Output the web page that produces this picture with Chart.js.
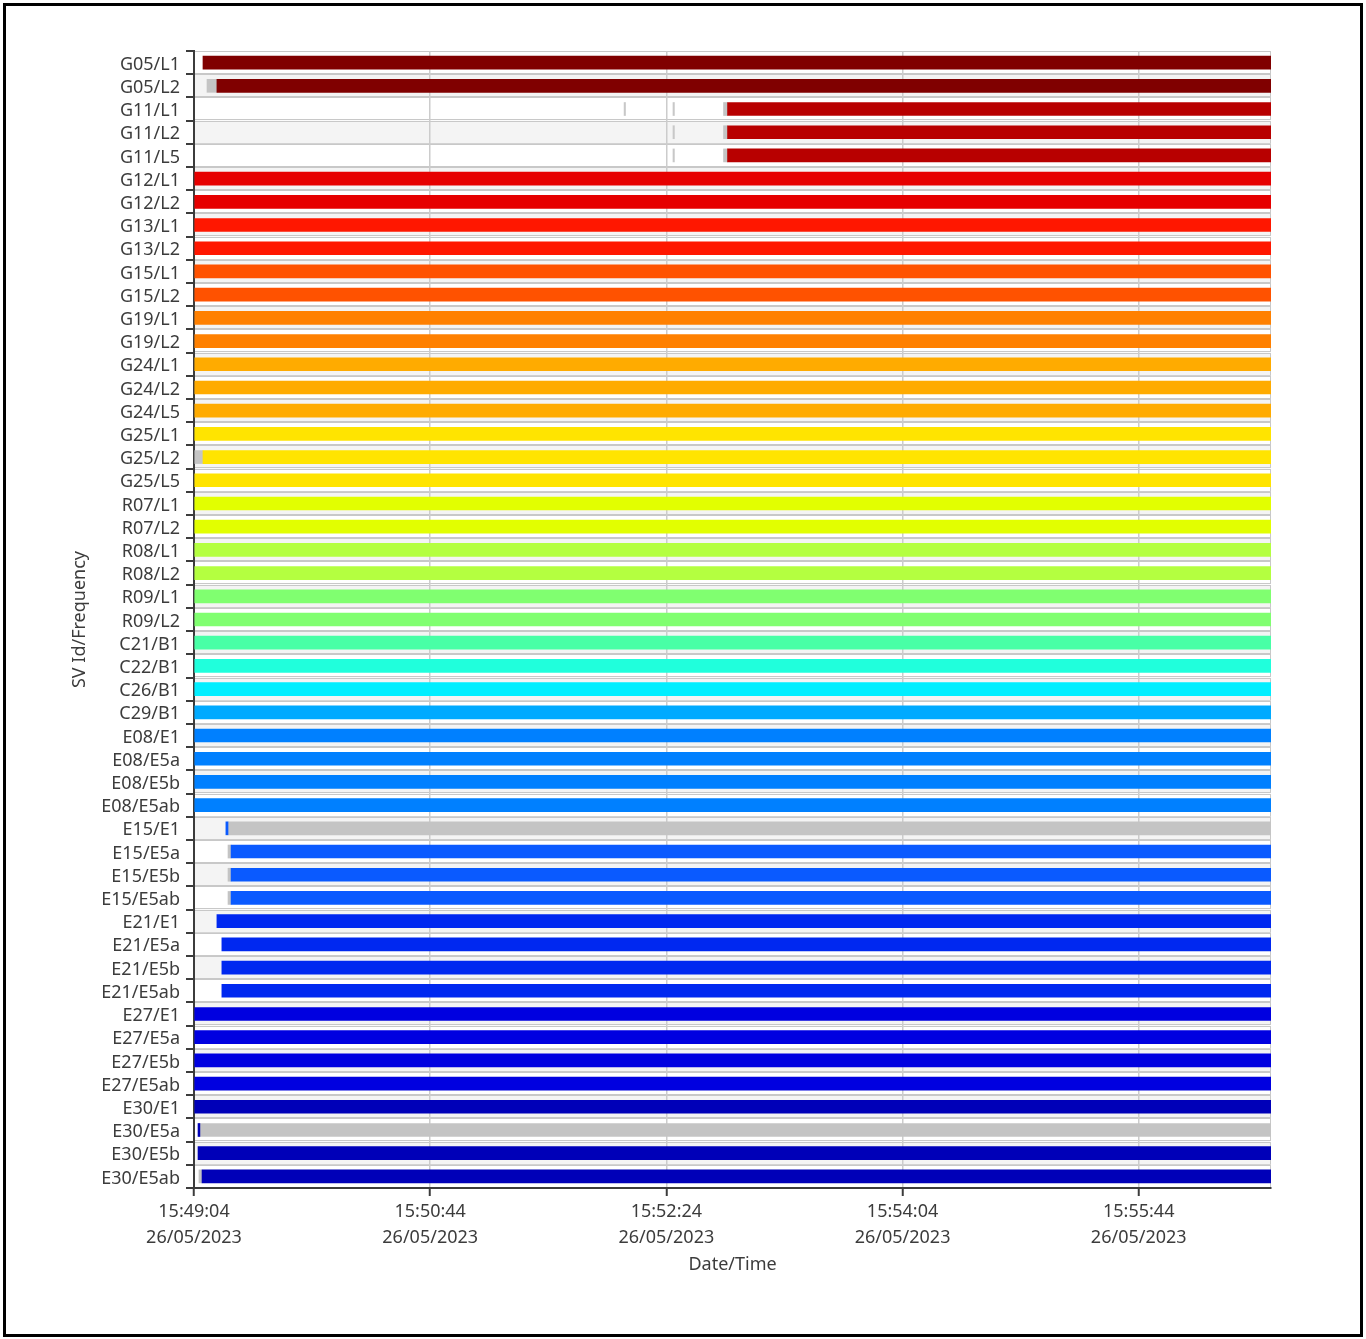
<!DOCTYPE html>
<html>
<head>
<meta charset="utf-8">
<title>SV Id/Frequency</title>
<script src="https://cdn.jsdelivr.net/npm/chart.js@4.4.0/dist/chart.umd.min.js"></script>
<style>
  body { margin: 0; background: #fff; }
  #wrap { position: relative; width: 1366px; height: 1339px; }
  #frame { position: absolute; left: 3px; top: 3px; width: 1360px; height: 1334px; box-sizing: border-box; border: 3px solid #000; pointer-events: none; }
  canvas { position: absolute; left: 0; top: 0; }
</style>
</head>
<body>
<div id="wrap">
  <canvas id="svChart" width="1366" height="1339"></canvas>
  <div id="frame"></div>
</div>
<script>
// Rows of the chart (SV / frequency)
const categories = [
  'G05/L1', 'G05/L2', 'G11/L1', 'G11/L2', 'G11/L5', 'G12/L1', 'G12/L2', 'G13/L1', 'G13/L2',
  'G15/L1', 'G15/L2', 'G19/L1', 'G19/L2', 'G24/L1', 'G24/L2', 'G24/L5', 'G25/L1', 'G25/L2',
  'G25/L5', 'R07/L1', 'R07/L2', 'R08/L1', 'R08/L2', 'R09/L1', 'R09/L2', 'C21/B1', 'C22/B1',
  'C26/B1', 'C29/B1', 'E08/E1', 'E08/E5a', 'E08/E5b', 'E08/E5ab', 'E15/E1', 'E15/E5a',
  'E15/E5b', 'E15/E5ab', 'E21/E1', 'E21/E5a', 'E21/E5b', 'E21/E5ab', 'E27/E1', 'E27/E5a',
  'E27/E5b', 'E27/E5ab', 'E30/E1', 'E30/E5a', 'E30/E5b', 'E30/E5ab'
];

// Colour of each satellite
const svColors = {
  G05: '#800000', G11: '#b80000', G12: '#e60000', G13: '#ff1700', G15: '#ff5200',
  G19: '#ff8000', G24: '#ffab00', G25: '#ffe400', R07: '#e2ff00', R08: '#b4ff40',
  R09: '#80ff70', C21: '#48ffa6', C22: '#20ffdc', C26: '#00eeff', C29: '#00aaff',
  E08: '#0080ff', E15: '#0a5aff', E21: '#0028f0', E27: '#0000e0', E30: '#0000b8'
};

// Time axis: seconds after 15:49:04 26/05/2023
const startTime = [15, 49, 4];
const startDate = '26/05/2023';
const timeMax = 456;
const tickStep = 100;

// Tracked (coloured) intervals, seconds
const trackedBars = [
  [3.8, 456], [9.7, 456], [225.9, 456], [225.9, 456], [225.9, 456], [0, 456], [0, 456], [0, 456], [0, 456],
  [0, 456], [0, 456], [0, 456], [0, 456], [0, 456], [0, 456], [0, 456], [0, 456], [3.8, 456],
  [0, 456], [0, 456], [0, 456], [0, 456], [0, 456], [0, 456], [0, 456], [0, 456], [0, 456],
  [0, 456], [0, 456], [0, 456], [0, 456], [0, 456], [0, 456], [13.5, 14.4], [15.7, 456],
  [15.7, 456], [15.7, 456], [9.7, 456], [11.8, 456], [11.8, 456], [11.8, 456], [0, 456], [0, 456],
  [0, 456], [0, 456], [0, 456], [1.7, 2.5], [1.7, 456], [3.4, 456]
];

// Untracked (grey) intervals, seconds
const grayBars = [
  null, [5.5, 9.7], [224.2, 225.9], [224.2, 225.9], [224.2, 225.9], null, null, null, null,
  null, null, null, null, null, null, null, null, [0, 3.8],
  null, null, null, null, null, null, null, null, null,
  null, null, null, null, null, null, [14.4, 456], [14.4, 15.7],
  [14.4, 15.7], [14.4, 15.7], null, null, null, null, null, null,
  null, null, null, [2.5, 456], null, [2.1, 3.4]
];

// Short grey marks on the G11 rows
const marksA = categories.map(c => c === 'G11/L1' ? [182.1, 182.7] : null);
const marksB = categories.map(c => c.startsWith('G11/') ? [202.8, 203.4] : null);

const rowColors = categories.map(c => svColors[c.split('/')[0]]);

const fmtTime = (v) => {
  let s = startTime[0] * 3600 + startTime[1] * 60 + startTime[2] + v;
  const hh = Math.floor(s / 3600), mm = Math.floor((s % 3600) / 60), ss = s % 60;
  const p = n => String(n).padStart(2, '0');
  return p(hh) + ':' + p(mm) + ':' + p(ss);
};

// Alternating row bands drawn under the grid
const rowBands = {
  id: 'rowBands',
  beforeDraw(chart) {
    const {ctx, chartArea, scales: {y}} = chart;
    const h = chartArea.height / categories.length;
    ctx.save();
    categories.forEach((c, i) => {
      const top = y.getPixelForValue(i) - h / 2;
      ctx.fillStyle = i % 2 ? '#f4f4f4' : '#ffffff';
      ctx.fillRect(chartArea.left, top, chartArea.width, h);
      ctx.strokeStyle = '#c8c8c8';
      ctx.lineWidth = 1;
      ctx.strokeRect(chartArea.left + 0.5, Math.round(top) + 0.5, chartArea.width - 1, Math.round(h) - 1);
    });
    ctx.restore();
  }
};

const font = { family: "'Noto Sans', sans-serif", size: 18 };
const textColor = '#3c3c3c';

const ds = (label, data, color) => ({
  label, data,
  backgroundColor: color,
  borderWidth: 0,
  grouped: false,
  barThickness: 13
});

new Chart(document.getElementById('svChart'), {
  type: 'bar',
  data: {
    labels: categories,
    datasets: [
      ds('Tracked', trackedBars, rowColors),
      ds('Not tracked', grayBars, '#c4c4c4'),
      ds('Marks A', marksA, '#c8c8c8'),
      ds('Marks B', marksB, '#c8c8c8')
    ]
  },
  options: {
    indexAxis: 'y',
    responsive: false,
    devicePixelRatio: 1,
    animation: false,
    layout: { padding: { left: 60, right: 95, top: 51, bottom: 59.2 } },
    plugins: {
      legend: { display: false },
      tooltip: { enabled: false }
    },
    scales: {
      x: {
        type: 'linear',
        position: 'bottom',
        min: 0,
        max: timeMax,
        afterFit: (scale) => { scale.height = 91.8; },
        ticks: {
          stepSize: tickStep,
          includeBounds: false,
          maxRotation: 0,
          padding: 3,
          color: textColor,
          font: { ...font, lineHeight: 1.45 },
          callback: (v) => [fmtTime(v), startDate]
        },
        grid: { color: '#cccccc', lineWidth: 1.5, tickColor: textColor, tickLength: 8, tickWidth: 2 },
        border: { color: textColor, width: 2 },
        title: { display: true, text: 'Date/Time', color: textColor, font, padding: { top: 4, bottom: 4 } }
      },
      y: {
        type: 'category',
        offset: true,
        afterFit: (scale) => { scale.width = 134; },
        ticks: { autoSkip: false, padding: 6, labelOffset: 2, color: textColor, font },
        grid: { offset: true, drawOnChartArea: false, color: textColor, tickLength: 8, lineWidth: 2 },
        border: { color: textColor, width: 2 },
        title: { display: true, text: 'SV Id/Frequency', color: textColor, font, padding: { top: 9, bottom: 0 } }
      }
    }
  },
  plugins: [rowBands]
});
</script>
</body>
</html>
